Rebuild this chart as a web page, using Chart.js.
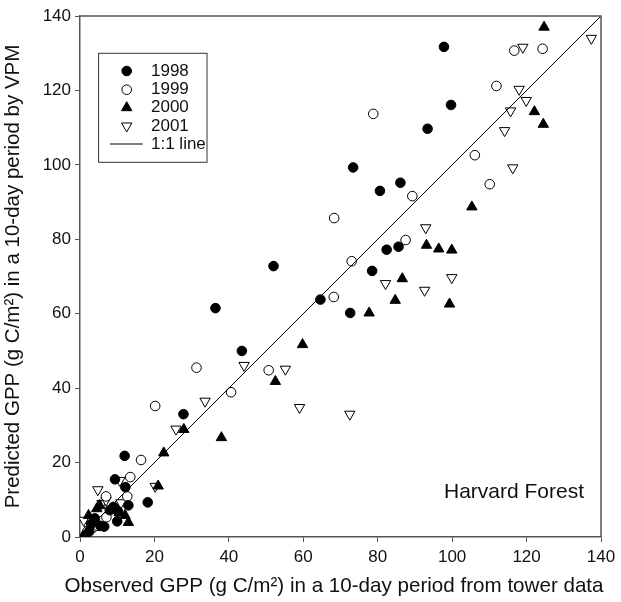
<!DOCTYPE html>
<html>
<head>
<meta charset="utf-8">
<script src="https://cdn.jsdelivr.net/npm/chart.js"></script>
<style>
html, body { margin: 0; padding: 0; background: #fff; }
</style>
</head>
<body>
<canvas id="gppChart" width="621" height="602"></canvas>
<script>
// observed (tower) vs predicted (VPM) GPP, g C/m2 per 10-day period
var obs1998 = [97.8, 99.7, 93.4, 73.4, 86.1, 80.6, 85.6, 82.4, 52.0, 78.5, 64.6, 72.6, 36.4, 43.5, 27.8, 12.0, 9.4, 12.2, 18.2, 13.0, 9.0, 10.2, 10.0, 8.0, 4.0, 5.5, 3.0, 6.5, 1.5, 2.5];
var vpm1998 = [131.7, 116.1, 109.7, 99.3, 95.2, 93.0, 78.0, 77.2, 72.8, 71.5, 63.8, 60.2, 61.5, 50.0, 33.0, 21.8, 15.5, 13.4, 9.3, 8.5, 8.1, 6.9, 4.2, 7.2, 5.0, 3.0, 3.5, 2.8, 0.5, 1.5];

var obs1999 = [78.8, 116.7, 124.3, 111.9, 106.1, 110.1, 89.3, 68.3, 87.5, 73.0, 68.2, 50.7, 31.3, 40.6, 20.2, 16.4, 13.5, 12.7, 7.0, 7.1, 2.0, 3.5, 4.8];
var vpm1999 = [113.7, 130.7, 131.2, 121.2, 102.6, 94.8, 91.6, 85.7, 79.8, 74.1, 64.5, 44.8, 45.5, 38.9, 35.2, 20.7, 16.1, 10.9, 10.9, 5.3, 1.5, 2.5, 3.0];

var obs2000 = [124.7, 122.1, 124.5, 105.3, 93.1, 96.4, 99.9, 86.6, 84.7, 77.7, 99.3, 59.8, 52.5, 38.0, 27.9, 22.5, 21.0, 12.1, 13.0, 4.5, 2.3, 5.3, 3.0, 1.0, 10.5];
var vpm2000 = [137.0, 114.3, 110.9, 88.7, 78.4, 77.4, 77.1, 69.4, 63.6, 60.2, 62.6, 51.7, 41.8, 26.7, 28.9, 22.6, 13.7, 5.8, 3.9, 7.6, 5.8, 8.5, 3.0, 0.5, 6.5];

var obs2001 = [137.4, 119.0, 118.0, 119.9, 115.7, 114.1, 116.3, 92.9, 82.1, 92.6, 99.9, 59.0, 72.5, 55.2, 44.1, 33.6, 25.8, 20.2, 10.7, 4.8, 5.9, 11.0, 1.0, 7.0, 2.5];
var vpm2001 = [134.0, 131.6, 120.3, 117.3, 114.5, 109.2, 99.2, 83.1, 68.1, 66.3, 69.7, 34.8, 33.0, 45.1, 46.1, 36.5, 29.0, 13.6, 15.2, 12.7, 9.0, 9.2, 4.5, 9.9, 2.0];

var lineX = [0, 140];
var lineY = [0, 140];

var xTitle = 'Observed GPP (g C/m\u00B2) in a 10-day period from tower data';
var yTitle = 'Predicted GPP (g C/m\u00B2) in a 10-day period by VPM';
var siteName = 'Harvard Forest';

function toPoints(xs, ys){
	return xs.map(function(x, i){ return {x: x, y: ys[i]}; });
}

function drawMarker(ctx, style, x, y){
	ctx.save();
	ctx.lineWidth = 1;
	ctx.strokeStyle = '#000';
	ctx.fillStyle = style.fill;
	ctx.beginPath();
	if (style.shape == 'circle') {
		ctx.arc(x, y, style.r, 0, Math.PI * 2);
	} else {
		var dir = style.shape == 'down' ? -1 : 1;
		var r = style.r;
		ctx.moveTo(x, y - dir * r);
		ctx.lineTo(x + r * Math.sin(Math.PI / 3 * 2), y + dir * r / 2);
		ctx.lineTo(x - r * Math.sin(Math.PI / 3 * 2), y + dir * r / 2);
		ctx.closePath();
	}
	ctx.fill();
	ctx.stroke();
	ctx.restore();
}

var legendStyles = [
	{label: '1998', shape: 'circle', fill: '#000', r: 4.8},
	{label: '1999', shape: 'circle', fill: '#fff', r: 4.8},
	{label: '2000', shape: 'up', fill: '#000', r: 6},
	{label: '2001', shape: 'down', fill: '#fff', r: 6}
];

var framePlugin = {
	id: 'frame',
	afterDraw: function(chart){
		var ctx = chart.ctx, a = chart.chartArea;
		ctx.save();
		// top and right border of the plot box
		ctx.strokeStyle = '#555';
		ctx.lineWidth = 1.5;
		ctx.beginPath();
		ctx.moveTo(a.left, a.top);
		ctx.lineTo(a.right, a.top);
		ctx.lineTo(a.right, a.bottom);
		ctx.stroke();

		// legend box
		var bx = a.left + 18.6, by = a.top + 37.3;
		ctx.fillStyle = '#fff';
		ctx.fillRect(bx, by, 108.4, 109);
		ctx.strokeStyle = '#333';
		ctx.lineWidth = 1;
		ctx.strokeRect(bx, by, 108.4, 109);

		ctx.font = '17px "Liberation Sans", Arial, sans-serif';
		ctx.textBaseline = 'middle';
		ctx.textAlign = 'left';
		var rowY = [71, 89.7, 107.7, 126, 144];
		legendStyles.forEach(function(s, i){
			drawMarker(ctx, s, 126.7, rowY[i]);
			ctx.fillStyle = '#111';
			ctx.fillText(s.label, 151, rowY[i]);
		});
		ctx.strokeStyle = '#000';
		ctx.beginPath();
		ctx.moveTo(110, rowY[4]);
		ctx.lineTo(142.7, rowY[4]);
		ctx.stroke();
		ctx.fillStyle = '#111';
		ctx.fillText('1:1 line', 151, rowY[4]);

		// site name
		ctx.font = '21px "Liberation Sans", Arial, sans-serif';
		ctx.textAlign = 'right';
		ctx.fillText(siteName, a.right - 17, 492);

		// x axis title, drawn here so it is not squeezed to the plot width
		ctx.font = '20.6px "Liberation Sans", Arial, sans-serif';
		ctx.textAlign = 'center';
		ctx.fillText(xTitle, 334, 586);
		ctx.restore();
	}
};

var tickFont = {family: '"Liberation Sans", Arial, sans-serif', size: 17};

new Chart(document.getElementById('gppChart'), {
	type: 'scatter',
	data: {
		datasets: [
			{
				label: '1:1 line',
				data: toPoints(lineX, lineY),
				showLine: true,
				borderColor: '#000',
				borderWidth: 1,
				pointRadius: 0
			},
			{
				label: '1998',
				data: toPoints(obs1998, vpm1998),
				pointStyle: 'circle',
				pointRadius: 4.8,
				backgroundColor: '#000',
				borderColor: '#000',
				borderWidth: 1
			},
			{
				label: '1999',
				data: toPoints(obs1999, vpm1999),
				pointStyle: 'circle',
				pointRadius: 4.8,
				backgroundColor: '#fff',
				borderColor: '#000',
				borderWidth: 1
			},
			{
				label: '2000',
				data: toPoints(obs2000, vpm2000),
				pointStyle: 'triangle',
				pointRadius: 6,
				backgroundColor: '#000',
				borderColor: '#000',
				borderWidth: 1
			},
			{
				label: '2001',
				data: toPoints(obs2001, vpm2001),
				pointStyle: 'triangle',
				rotation: 180,
				pointRadius: 6,
				backgroundColor: '#fff',
				borderColor: '#000',
				borderWidth: 1
			}
		]
	},
	plugins: [framePlugin],
	options: {
		responsive: false,
		animation: false,
		devicePixelRatio: 1,
		layout: {padding: {top: 16, right: 20, left: 0, bottom: 0}},
		plugins: {
			legend: {display: false},
			tooltip: {enabled: false}
		},
		scales: {
			x: {
				type: 'linear',
				min: 0,
				max: 140,
				ticks: {stepSize: 20, font: tickFont, color: '#111', padding: 5, maxRotation: 0},
				grid: {drawOnChartArea: false, drawTicks: true, tickLength: 5, color: '#555'},
				border: {color: '#555', width: 1.5},
				afterFit: function(s){ s.height = 65; }
			},
			y: {
				type: 'linear',
				min: 0,
				max: 140,
				ticks: {stepSize: 20, font: tickFont, color: '#111', padding: 4},
				grid: {drawOnChartArea: false, drawTicks: true, tickLength: 5, color: '#555'},
				border: {color: '#555', width: 1.5},
				title: {display: true, text: yTitle, font: {family: '"Liberation Sans", Arial, sans-serif', size: 20.5}, color: '#111', padding: {top: 1, bottom: 0}},
				afterFit: function(s){ s.width = 80; }
			}
		}
	}
});
</script>
</body>
</html>
